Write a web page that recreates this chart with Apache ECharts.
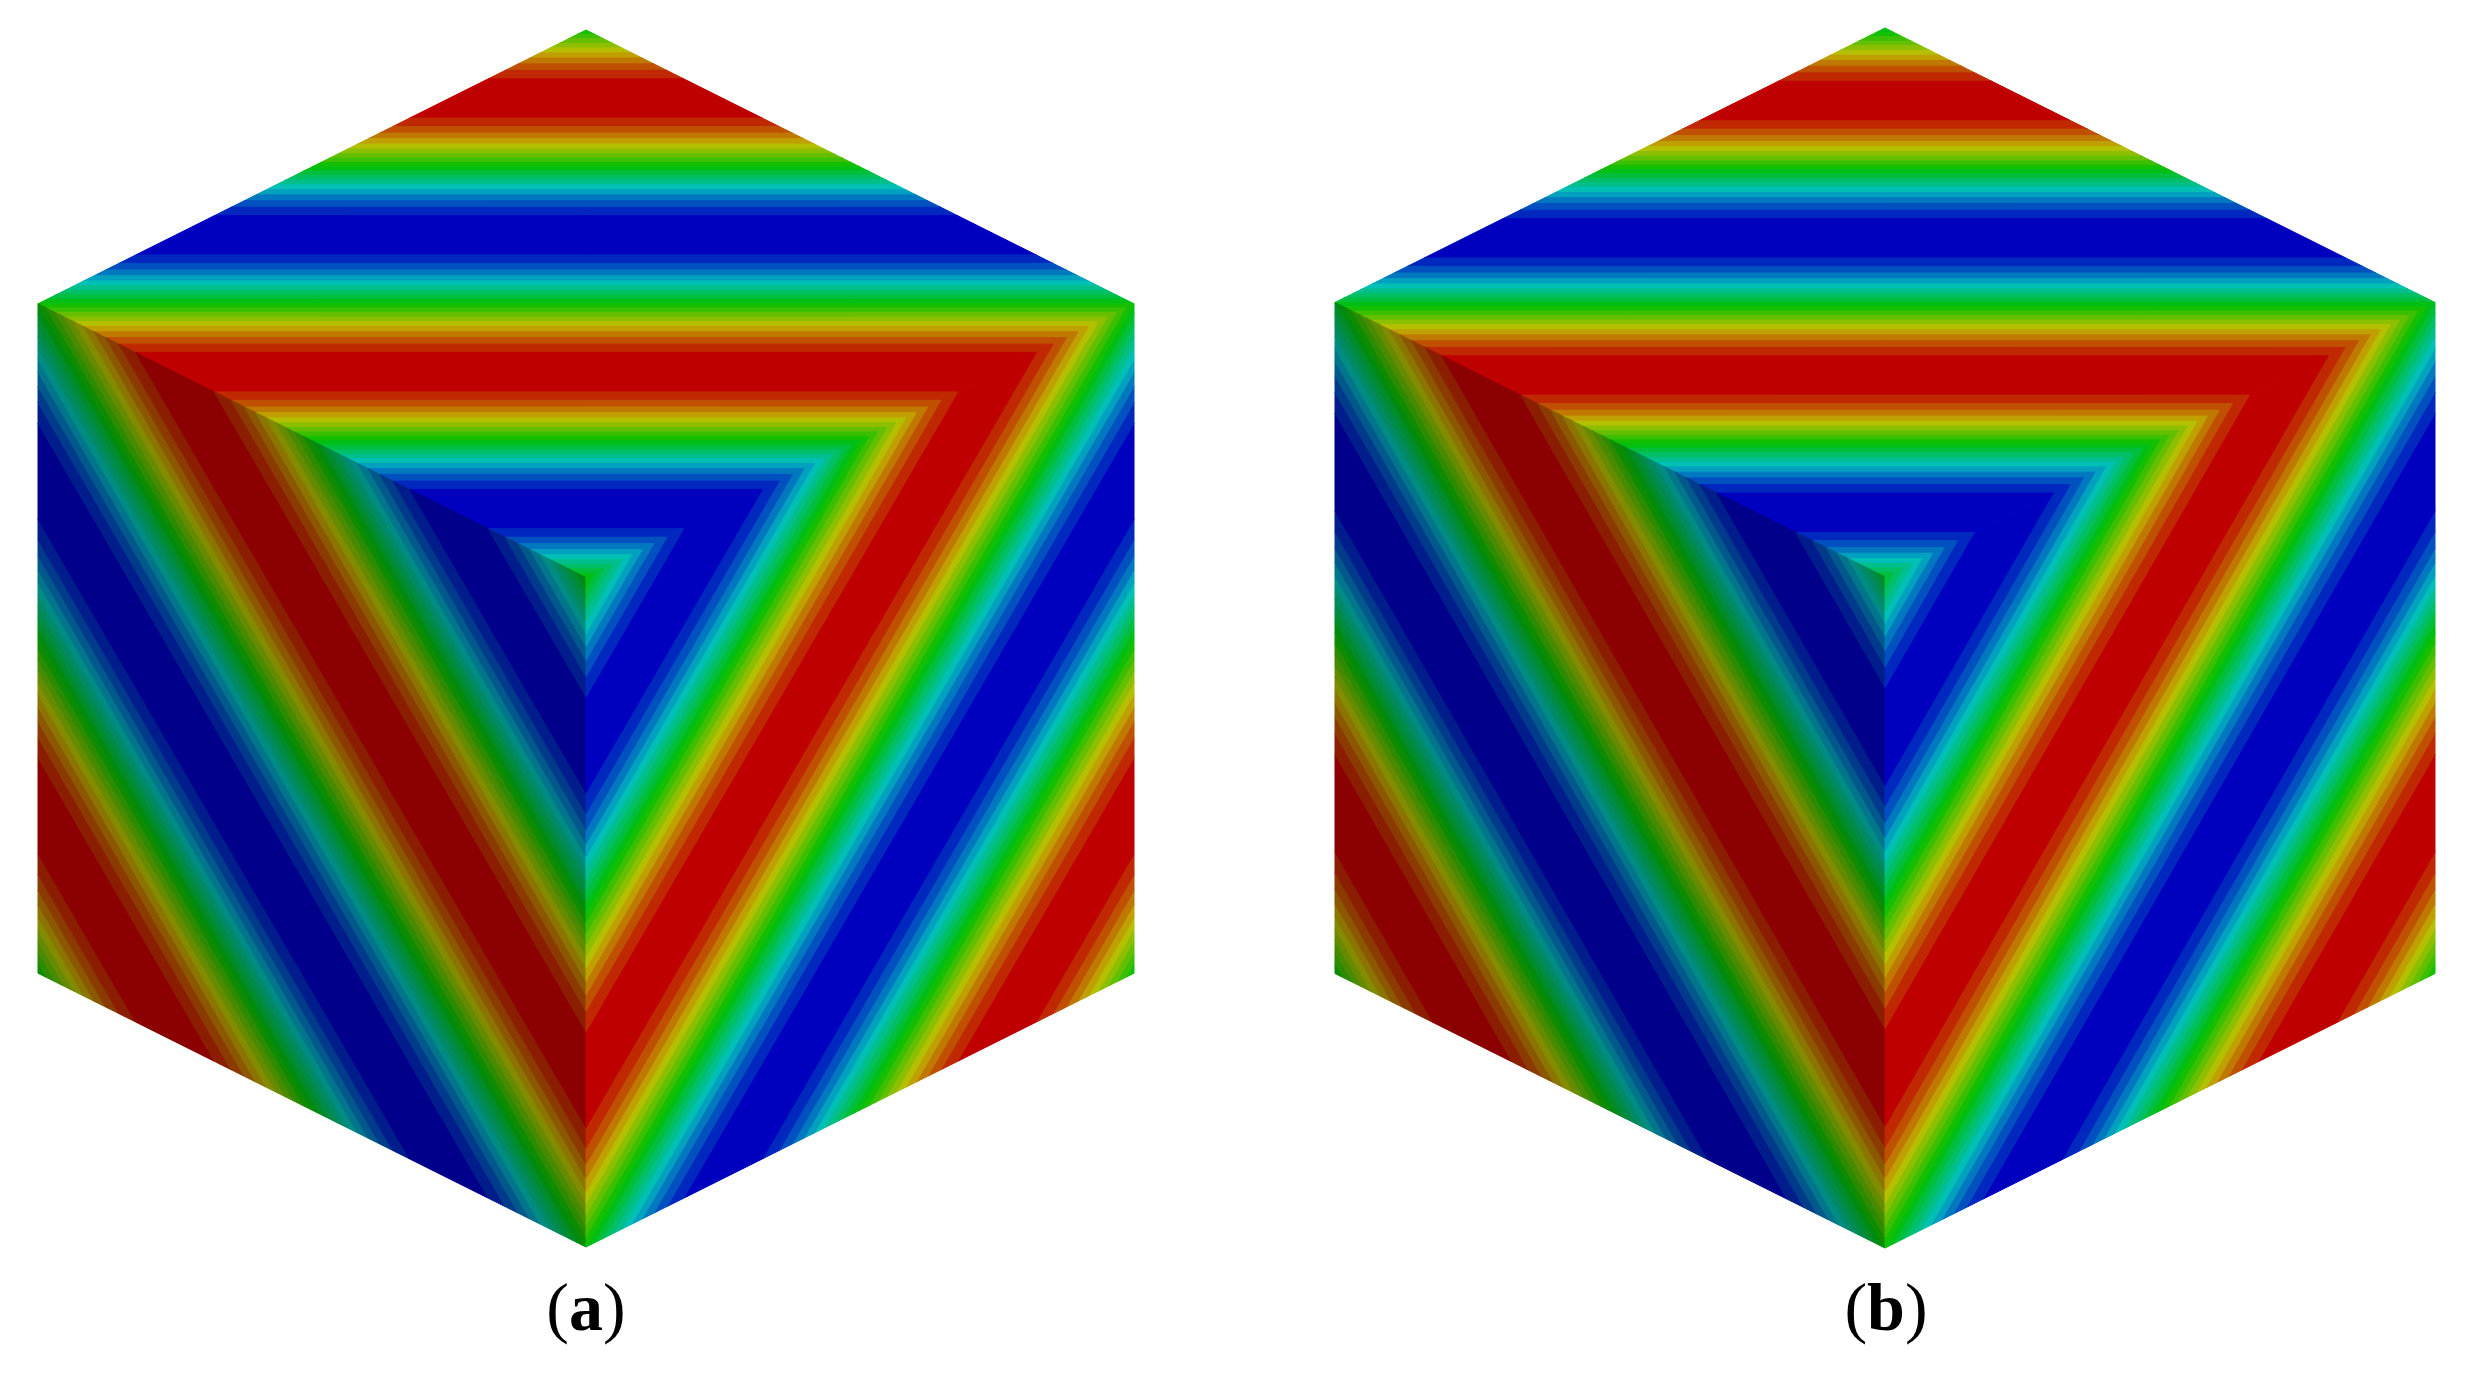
<!DOCTYPE html>
<html>
<head>
<meta charset="utf-8">
<style>html,body{margin:0;background:#fff}#chart{width:2482px;height:1380px}</style>
<script src="https://cdn.jsdelivr.net/npm/echarts@6/dist/echarts.min.js"></script>
</head>
<body>
<div id="chart"></div>
<script>
// contour band edges over one half period, read from the stripes on the top face
var riseEdges = [0, 0.0159, 0.032, 0.0485, 0.0655, 0.0833, 0.1024, 0.1234, 0.1476, 0.1782,
                 0.3218, 0.3524, 0.3766, 0.3976, 0.4167, 0.4345, 0.4515, 0.468, 0.4841, 0.5];
var riseLevels = [10, 11, 12, 13, 14, 15, 16, 17, 18, 19, 18, 17, 16, 15, 14, 13, 12, 11, 10];
var fallEdges = [0.5, 0.5159, 0.532, 0.5485, 0.5655, 0.5833, 0.6024, 0.6234, 0.6476, 0.6782,
                 0.8218, 0.8524, 0.8766, 0.8976, 0.9167, 0.9345, 0.9515, 0.968, 0.9841, 1];
var fallLevels = [9, 8, 7, 6, 5, 4, 3, 2, 1, 0, 1, 2, 3, 4, 5, 6, 7, 8, 9];
var levelColors = ['#0000bf', '#0028bf', '#0050bf', '#0078bf', '#00a0bf', '#00bfb4', '#00bf8c', '#00bf64', '#00bf3c', '#00bf14',
                   '#14bf00', '#3cbf00', '#64bf00', '#8cbf00', '#b4bf00', '#bfa000', '#bf7800', '#bf5000', '#bf2800', '#bf0000'];
// the left face is lit less, same levels but darker
var shadedColors = ['#00008b', '#001d8b', '#003a8b', '#00588b', '#00758b', '#008b83', '#008b66', '#008b49', '#008b2c', '#008b0f',
                    '#0f8b00', '#2c8b00', '#498b00', '#668b00', '#838b00', '#8b7500', '#8b5800', '#8b3a00', '#8b1d00', '#8b0000'];

// cube faces in axis units: origin, first edge, second edge, and the sign of the second edge in the phase
var faceNames = ['top', 'left', 'right'];
var faceOrigins = [[0, 4.445], [-1, 3.445], [1, 3.445]];
var faceEdgesA = [[-1, -1], [1, -1], [-1, -1]];
var faceEdgesB = [[1, -1], [0, -2.445], [0, -2.445]];
var faceSigns = [1, -1, -1];
var facePhaseStart = [-1, -2, -2];
var facePalette = [levelColors, shadedColors, levelColors];

var panelLabels = ['a', 'b'];
var panelLeft = [38, 1335];
var panelWidth = [1096, 1100];
var panelTop = [30, 28];
var panelHeight = [1217, 1220];
var panelTopShift = [0, 0.016]; // stripes on top face of (b) sit ~4px lower
var labelCenter = [581, 1881];

var bands = [];
faceNames.forEach(function (name, f) {
  for (var period = 0; period < 3; period++) {
    var start = facePhaseStart[f] + period;
    riseLevels.forEach(function (lv, i) {
      bands.push([f, start + riseEdges[i], start + riseEdges[i + 1], lv]);
    });
    fallLevels.forEach(function (lv, i) {
      bands.push([f, start + fallEdges[i], start + fallEdges[i + 1], lv]);
    });
  }
});

// cut a polygon of [a, b, phase] points to phase >= p (dir 1) or phase <= p (dir -1)
function cut(points, p, dir) {
  var out = [];
  for (var i = 0; i < points.length; i++) {
    var s = points[i], e = points[(i + 1) % points.length];
    var sd = (s[2] - p) * dir, ed = (e[2] - p) * dir;
    if (sd >= 0) out.push(s);
    if ((sd > 0 && ed < 0) || (sd < 0 && ed > 0)) {
      var t = sd / (sd - ed);
      out.push([s[0] + (e[0] - s[0]) * t, s[1] + (e[1] - s[1]) * t, p]);
    }
  }
  return out;
}

function renderBand(params, api) {
  var f = api.value(0);
  var sign = faceSigns[f];
  var shift = panelTopShift[params.seriesIndex];
  // side faces take the shift at the shared edge with the top face and lose it towards the bottom
  var farShift = f === 0 ? shift : 0;
  var square = [[0, 0, -shift], [1, 0, 1 - shift], [1, 1, 1 + sign - farShift], [0, 1, sign - farShift]];
  var poly = cut(cut(square, api.value(1), 1), api.value(2), -1);
  if (poly.length < 3) return;
  var color = facePalette[f][api.value(3)];
  var pts = poly.map(function (q) {
    return api.coord([
      faceOrigins[f][0] + faceEdgesA[f][0] * q[0] + faceEdgesB[f][0] * q[1],
      faceOrigins[f][1] + faceEdgesA[f][1] * q[0] + faceEdgesB[f][1] * q[1]
    ]);
  });
  return {
    type: 'polygon',
    shape: { points: pts },
    style: { fill: color, stroke: color, lineWidth: 1 }
  };
}

var myChart = echarts.init(document.getElementById('chart'));
myChart.setOption({
  animation: false,
  backgroundColor: '#fff',
  title: panelLabels.map(function (l, i) {
    return {
      text: '{p|(}{l|' + l + '}{p|)}',
      left: labelCenter[i],
      top: 1273,
      textAlign: 'center',
      textStyle: {
        fontWeight: 'normal',
        rich: {
          p: { fontFamily: 'Liberation Serif', fontSize: 68, fontWeight: 'normal', color: '#000' },
          l: { fontFamily: 'Liberation Serif', fontSize: 68, fontWeight: 'bold', color: '#000' }
        }
      }
    };
  }),
  grid: panelLabels.map(function (l, i) {
    return { left: panelLeft[i], top: panelTop[i], width: panelWidth[i], height: panelHeight[i] };
  }),
  xAxis: panelLabels.map(function (l, i) {
    return { type: 'value', gridIndex: i, min: -1, max: 1, show: false };
  }),
  yAxis: panelLabels.map(function (l, i) {
    return { type: 'value', gridIndex: i, min: 0, max: 4.445, show: false };
  }),
  series: panelLabels.map(function (l, i) {
    return {
      type: 'custom',
      name: l,
      xAxisIndex: i,
      yAxisIndex: i,
      clip: false,
      silent: true,
      renderItem: renderBand,
      data: bands
    };
  })
});
window.addEventListener('resize', function () { myChart.resize(); });
</script>
</body>
</html>
